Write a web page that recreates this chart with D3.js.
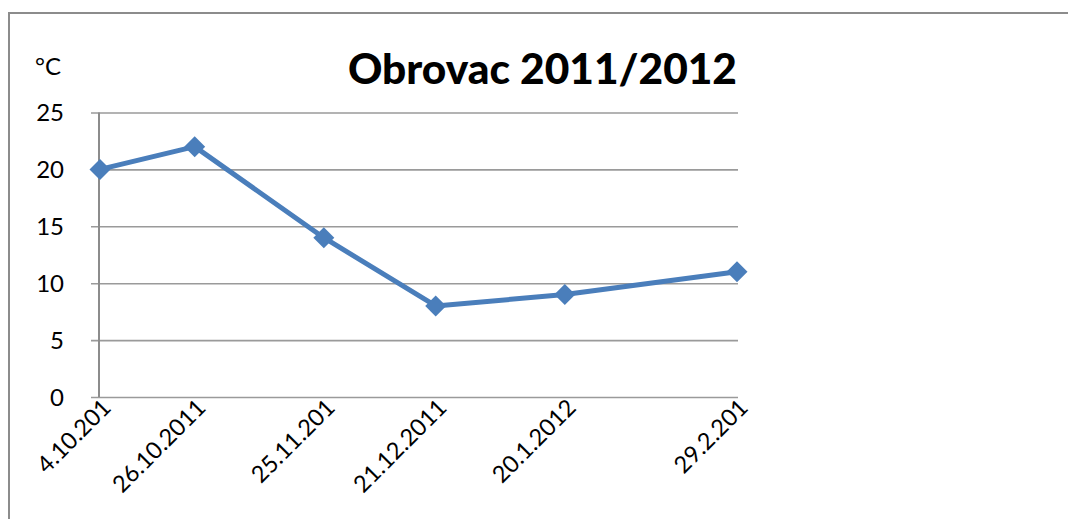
<!DOCTYPE html>
<html>
<head>
<meta charset="utf-8">
<script src="https://cdn.jsdelivr.net/npm/d3@7"></script>
<style>
  body { margin: 0; background: #fff; }
  text { font-family: Lato, "Open Sans", sans-serif; }
</style>
</head>
<body>
<div id="container"></div>
<script>
// data
const dates = ["2011-10-04", "2011-10-26", "2011-11-25", "2011-12-21", "2012-01-20", "2012-02-29"];
const labels = ["4.10.201", "26.10.2011", "25.11.201", "21.12.2011", "20.1.2012", "29.2.201"];
const temps = [20, 22, 14, 8, 9, 11];
const yTicks = [0, 5, 10, 15, 20, 25];

const width = 1068, height = 519;
const parse = d3.timeParse("%Y-%m-%d");
const points = dates.map((d, i) => ({date: parse(d), value: temps[i], label: labels[i]}));

const svg = d3.select("#container")
    .append("svg")
    .attr("width", width)
    .attr("height", height);

// outer chart frame (only top and left edges visible)
svg.append("path")
    .attr("d", "M9," + height + " L9,13 L" + width + ",13")
    .attr("fill", "none")
    .attr("stroke", "#8c8c8c")
    .attr("stroke-width", 2);

const x = d3.scaleTime()
    .domain(d3.extent(points, d => d.date))
    .range([100, 737]);

const y = d3.scaleLinear()
    .domain([0, 25])
    .range([397, 112.5]);

// gridlines + y axis
const yAxis = svg.append("g")
    .attr("transform", "translate(99,0)")
    .call(d3.axisLeft(y).tickValues(yTicks).tickSize(8).tickPadding(27)
        .tickFormat(d3.format("d")));
yAxis.select(".domain").remove();
yAxis.selectAll(".tick line")
    .attr("x2", 738 - 99)
    .attr("x1", -8)
    .attr("stroke", "#9a9a9a")
    .attr("stroke-width", 1.6);
yAxis.selectAll(".tick text")
    .attr("font-size", 24)
    .attr("fill", "#000")
    .attr("dy", "0.35em")
    .style("font-family", "Lato, 'Open Sans', sans-serif");

svg.append("line")
    .attr("x1", 99).attr("x2", 99)
    .attr("y1", y(25)).attr("y2", y(0))
    .attr("stroke", "#8c8c8c")
    .attr("stroke-width", 2);

// x axis labels, rotated
const xAxis = svg.append("g")
    .attr("transform", "translate(0," + y(0) + ")")
    .call(d3.axisBottom(x).tickValues(points.map(d => d.date)).tickSize(0)
        .tickFormat((d, i) => labels[i]));
xAxis.select(".domain").remove();
xAxis.selectAll(".tick text")
    .attr("font-size", 23.5)
    .attr("fill", "#000")
    .style("font-family", "Lato, 'Open Sans', sans-serif")
    .attr("text-anchor", "end")
    .attr("dy", 0)
    .attr("y", 0)
    .attr("transform", "translate(12,12) rotate(-45)");

// series line
const line = d3.line()
    .x(d => x(d.date))
    .y(d => y(d.value));

svg.append("path")
    .datum(points)
    .attr("d", line)
    .attr("fill", "none")
    .attr("stroke", "#4a7ebb")
    .attr("stroke-width", 5)
    .attr("stroke-linejoin", "round");

svg.selectAll(".marker")
    .data(points)
    .enter()
    .append("path")
    .attr("class", "marker")
    .attr("d", d3.symbol(d3.symbolSquare, 220))
    .attr("transform", d => "translate(" + x(d.date) + "," + y(d.value) + ") rotate(45)")
    .attr("fill", "#4a7ebb");

// unit label and title
svg.append("text")
    .text("°C")
    .attr("x", 35)
    .attr("y", 75)
    .attr("font-size", 24)
    .attr("fill", "#000");

svg.append("text")
    .text("Obrovac 2011/2012")
    .attr("x", 348)
    .attr("y", 84)
    .attr("font-size", 42)
    .attr("font-weight", "900")
    .attr("textLength", 389)
    .attr("lengthAdjust", "spacingAndGlyphs")
    .attr("fill", "#000");
</script>
</body>
</html>
